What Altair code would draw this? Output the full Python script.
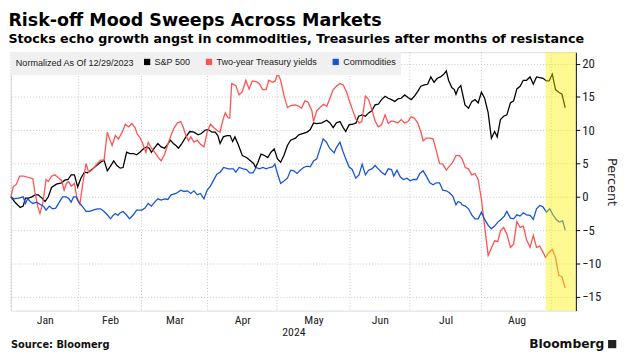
import altair as alt
import pandas as pd

# trading sessions since 12/29/2023 (x position) and normalized % change
sp_t = [0, 1.4, 2.9, 3.8, 4.5, 5.5, 6.5, 7.5, 8.5, 9.6, 10.6, 11.6, 12.6, 14.1, 15.7, 16.7, 17.7, 18.7, 19.7, 20.7,
        21.7, 22.8, 23.8, 24.8, 26.3, 27.8, 28.9, 29.9, 30.9, 31.9, 32.9, 33.9, 34.8, 35.9, 36.9, 38.0, 39.0, 40.0,
        41.1, 42.1, 42.9, 43.6, 44.6, 45.6, 46.6, 47.7, 48.7, 49.5, 50.4, 51.2, 52.0, 53.0, 54.3, 55.5, 56.8, 58.1,
        59.1, 60.2, 61.2, 62.4, 63.4, 64.2, 64.9, 65.9, 67.0, 68.0, 68.8, 69.5, 70.5, 71.8, 73.1, 74.3, 75.3, 75.9,
        76.6, 77.6, 78.7, 79.7, 80.7, 81.7, 82.7, 83.7, 84.7, 85.8, 86.8, 88.3, 89.3, 90.5, 91.9, 92.9, 93.9, 94.9,
        96.5, 98.0, 99.0, 100.0, 101.0, 102.1, 103.1, 103.9, 104.9, 106.1, 107.1, 107.9, 109.0, 110.0, 111.0, 112.0,
        113.0, 114.0, 115.0, 116.1, 117.1, 118.1, 119.1, 120.1, 121.1, 122.2, 123.2, 124.2, 125.2, 126.2, 127.2,
        128.3, 129.3, 130.3, 131.3, 132.3, 133.3, 134.3, 135.1, 135.8, 136.8, 137.6, 138.1, 138.8, 139.6, 140.9,
        142.0, 143.0, 144.0, 145.0, 146.0, 147.0, 148.1, 149.1, 150.1, 150.9, 151.9, 152.9, 153.9, 155.0, 156.0,
        157.0, 158.0, 159.0, 160.0, 161.1, 162.1, 163.1, 164.1, 165.1, 166.2, 167.0, 168.0, 169.0, 170.0, 171.0, 172.0]
sp_v = [0.0, -0.9, -1.6, -1.4, -0.2, -0.2, 0.0, 0.3, 0.3, -0.2, -0.7, 0.0, 1.4, 1.9, 2.1, 2.5, 2.6, 3.3, 3.3, 1.5,
        2.8, 3.7, 3.6, 4.0, 4.6, 5.2, 5.5, 3.9, 4.6, 5.4, 4.7, 4.3, 4.4, 6.7, 6.5, 6.5, 6.3, 6.7,
        7.2, 7.5, 7.3, 6.7, 7.4, 8.0, 7.5, 7.3, 7.9, 8.5, 8.0, 7.7, 7.3, 8.0, 9.0, 9.8, 9.7, 9.3,
        9.5, 10.0, 10.1, 9.7, 9.7, 9.2, 8.0, 9.0, 9.2, 9.2, 8.3, 9.0, 7.9, 6.2, 5.9, 5.4, 5.0, 4.4,
        5.1, 6.4, 6.2, 5.9, 6.7, 7.2, 5.7, 5.2, 6.2, 7.7, 8.5, 8.8, 9.3, 9.5, 9.7, 10.1, 11.1, 11.0,
        11.1, 11.5, 11.1, 10.4, 11.1, 11.3, 10.4, 9.8, 10.8, 10.9, 11.1, 12.1, 12.3, 12.1, 12.6, 12.9,
        13.8, 13.9, 14.6, 15.1, 14.8, 14.6, 14.3, 14.7, 14.8, 15.3, 14.9, 14.6, 15.1, 15.8, 16.6,
        16.8, 16.9, 18.0, 17.2, 17.8, 18.0, 18.4, 18.9, 17.5, 16.4, 16.1, 15.4, 16.3, 16.7, 13.8,
        13.3, 14.3, 14.6, 14.1, 15.7, 14.8, 12.6, 8.8, 9.8, 9.0, 11.6, 12.1, 12.3, 14.1, 14.4,
        16.2, 16.6, 17.5, 17.5, 18.0, 16.9, 18.0, 17.9, 17.8, 17.4, 17.4, 18.4, 16.1, 15.7, 15.4, 13.4]

ty_t = [0, 0.7, 1.7, 2.7, 4.0, 5.5, 6.8, 7.5, 8.3, 9.0, 9.9, 10.9, 11.6, 12.6, 13.6, 14.6, 15.7, 16.5, 17.2, 17.9,
        18.7, 19.7, 20.4, 21.4, 22.3, 23.3, 24.1, 25.1, 26.3, 27.8, 28.9, 29.9, 30.6, 31.4, 32.4, 33.4, 34.5, 35.5,
        36.5, 37.5, 38.5, 39.2, 40.2, 41.1, 41.9, 42.6, 43.6, 44.6, 45.6, 46.6, 47.7, 48.7, 49.7, 50.7, 51.7, 52.7,
        53.5, 54.3, 55.1, 55.8, 56.8, 57.8, 58.8, 59.9, 60.9, 61.9, 62.9, 63.9, 64.9, 65.7, 66.5, 67.3, 67.9, 68.5,
        69.8, 70.8, 71.8, 72.9, 73.9, 74.9, 76.1, 77.1, 78.1, 79.2, 80.0, 81.2, 82.0, 82.8, 83.7, 84.7, 85.8, 86.8,
        88.3, 89.3, 90.2, 91.2, 92.2, 93.4, 93.9, 94.9, 95.9, 97.0, 98.0, 99.0, 100.0, 101.0, 102.1, 103.1, 104.1,
        105.1, 106.1, 107.1, 108.1, 108.9, 110.0, 111.0, 112.0, 113.0, 114.0, 115.0, 116.1, 117.1, 118.1, 119.1,
        120.1, 121.1, 122.2, 123.2, 124.2, 125.2, 126.2, 127.2, 127.9, 128.9, 130.0, 131.0, 132.0, 133.0, 134.0,
        135.1, 136.1, 137.1, 138.1, 139.2, 140.0, 141.0, 142.0, 143.0, 144.0, 145.0, 146.0, 147.0, 148.1, 149.1,
        150.1, 151.1, 151.9, 152.9, 153.9, 155.0, 156.0, 157.0, 158.0, 159.0, 160.0, 161.1, 162.1, 163.1, 164.1,
        165.1, 165.9, 166.9, 168.0, 169.0, 170.0, 171.0, 172.0]
ty_v = [0.0, 1.5, 1.9, 3.1, 3.1, 2.9, 2.7, 0.5, -1.4, -2.5, -0.9, 2.6, 2.3, 3.1, 3.3, 2.9, 2.5, 1.0, 2.0, 2.3,
        1.6, 2.0, 0.0, -1.1, 2.0, 5.0, 3.7, 4.0, 4.7, 5.5, 5.5, 9.7, 8.7, 7.7, 9.2, 8.7, 9.7, 10.9,
        10.5, 11.0, 10.4, 9.4, 8.8, 7.7, 6.7, 8.2, 7.3, 6.7, 6.0, 5.4, 6.4, 7.9, 9.3, 10.4, 11.1, 11.3,
        10.4, 9.2, 8.4, 9.0, 8.2, 8.5, 7.9, 7.5, 9.7, 10.9, 10.4, 10.0, 9.7, 11.4, 12.6, 11.9, 11.8, 17.0,
        16.7, 15.3, 15.8, 17.5, 16.2, 17.4, 17.3, 17.0, 16.1, 16.1, 17.5, 17.2, 17.4, 18.5, 17.5, 15.3, 13.4, 13.7,
        13.8, 13.6, 13.3, 14.4, 14.2, 12.9, 11.3, 12.9, 13.4, 13.9, 13.6, 14.8, 16.1, 16.6, 17.0, 16.8, 15.8,
        14.3, 12.9, 11.6, 11.1, 11.3, 15.1, 14.6, 13.1, 11.4, 10.5, 10.8, 12.3, 11.0, 11.4, 11.3,
        11.1, 11.6, 11.1, 11.3, 12.0, 11.8, 11.1, 9.8, 8.4, 8.8, 8.8, 8.7, 6.9, 5.0, 4.9,
        4.0, 4.6, 5.2, 6.2, 6.2, 5.7, 4.4, 4.2, 3.3, 3.5, 2.6, -0.4, -4.4, -8.8, -7.7,
        -6.6, -6.7, -5.1, -4.6, -5.6, -7.6, -7.1, -3.7, -4.6, -4.4, -6.4, -7.6, -5.8, -7.6, -7.4,
        -8.3, -9.1, -8.4, -7.9, -9.1, -11.8, -12.0, -13.7]

cm_t = [0, 0.9, 2.4, 3.8, 4.5, 5.2, 6.0, 6.8, 8.0, 9.2, 10.1, 10.9, 11.9, 12.9, 13.9, 14.9, 16.0, 17.2, 18.0, 18.7,
        19.4, 20.2, 21.0, 22.1, 23.3, 24.5, 25.5, 26.8, 27.8, 28.9, 29.9, 30.9, 31.7, 32.4, 33.2, 33.9, 34.8, 35.8,
        36.8, 38.0, 39.0, 40.6, 41.6, 42.6, 43.6, 44.6, 45.6, 46.6, 47.7, 48.7, 49.7, 51.2, 52.7, 53.7, 54.8, 55.8,
        56.8, 57.8, 58.8, 59.9, 60.9, 61.9, 62.9, 63.9, 64.9, 66.0, 67.5, 68.5, 69.0, 69.8, 70.8, 72.1, 73.1, 74.1,
        75.1, 76.1, 77.1, 78.2, 79.2, 80.2, 81.2, 81.9, 82.7, 83.7, 84.8, 85.8, 86.8, 87.8, 88.8, 89.8, 90.8, 91.9,
        92.9, 93.9, 94.9, 95.9, 96.9, 97.9, 98.9, 100.3, 101.0, 102.1, 103.05, 103.9, 104.9, 105.9, 107.0, 108.0,
        109.0, 110.0, 111.0, 112.0, 113.0, 114.0, 115.0, 116.1, 117.1, 118.1, 118.8, 119.8, 120.8, 121.8, 122.9,
        123.9, 124.9, 125.9, 126.9, 127.9, 128.9, 130.0, 131.0, 132.0, 133.0, 134.0, 135.1, 136.1, 137.1, 138.1,
        138.8, 139.6, 140.0, 141.0, 142.0, 143.0, 144.0, 145.0, 146.0, 147.0, 148.1, 149.1, 150.1, 151.1, 152.1,
        153.1, 153.9, 155.0, 156.0, 157.0, 158.0, 159.0, 160.0, 161.1, 162.1, 163.1, 164.1, 165.1, 166.2, 167.2,
        168.2, 169.2, 170.2, 171.2, 172.0]
cm_v = [0.0, -0.3, -0.2, 0.0, -1.0, -0.3, -0.7, -1.0, -0.8, -1.2, -1.4, -2.0, -1.4, -1.8, -1.7, -0.9, 0.0, 0.0, -0.3, -0.8,
        0.0, 0.0, -0.8, -1.4, -2.2, -2.2, -2.0, -1.8, -1.8, -2.2, -2.7, -3.3, -2.8, -2.5, -2.8, -2.4, -2.2, -2.7,
        -3.3, -2.7, -2.0, -2.0, -1.7, -1.0, -1.4, -0.8, -0.3, -0.5, -0.3, -0.4, 0.3, 0.5, 1.0, 0.8, 0.9, 0.5,
        0.9, 0.3, 0.5, -0.3, 1.0, 1.6, 2.5, 3.4, 3.7, 4.4, 4.2, 4.2, 4.2, 3.7, 4.4, 4.2, 4.1, 3.6,
        3.6, 4.4, 4.2, 4.4, 4.2, 4.4, 4.5, 4.9, 3.5, 2.0, 2.4, 2.8, 4.0, 3.9, 3.5, 4.0, 4.4, 4.6,
        4.5, 5.4, 5.7, 7.2, 8.7, 8.2, 7.3, 6.6, 7.4, 8.2, 6.8, 5.7, 4.5, 4.1, 2.8, 3.3,
        4.9, 3.3, 4.0, 4.2, 4.7, 4.2, 3.7, 3.3, 4.2, 4.1, 3.1, 4.0, 3.0, 2.6, 2.8,
        2.4, 2.6, 2.6, 3.5, 3.9, 3.1, 2.1, 1.8, 2.1, 2.1, 1.0, 0.9, 0.6, 0.1, -1.2,
        -0.7, -0.9, -1.2, -1.4, -1.8, -2.7, -3.3, -3.3, -2.3, -3.4, -4.3, -4.8, -4.4, -3.8, -3.4,
        -2.9, -2.2, -3.2, -3.3, -2.7, -2.9, -2.4, -2.7, -2.8, -3.4, -1.8, -1.3, -1.5, -2.3, -1.8,
        -2.7, -3.4, -3.8, -3.6, -5.0]

series_names = ["S&P 500", "Two-year Treasury yields", "Commodities"]
series_colors = ["#000000", "#ff5252", "#1554d6"]

month_names = ["Jan", "Feb", "Mar", "Apr", "May", "Jun", "Jul", "Aug"]
month_mid = [10.5, 30.75, 50.75, 71.8, 93.9, 114.5, 134.9, 156.9]
month_bounds = [0, 21, 40.5, 61, 82.6, 105.2, 123.8, 146, 167.7]
y_ticks = [-15, -10, -5, 0, 5, 10, 15, 20]
highlight = [165.9, 175.3]
x_domain = [0, 175.3]
y_domain = [-17.1, 21.7]

rows = []
for name, ts, vs in [(series_names[0], sp_t, sp_v), (series_names[1], ty_t, ty_v), (series_names[2], cm_t, cm_v)]:
    for t, v in zip(ts, vs):
        rows.append({"t": t, "v": v, "series": name})
df = pd.DataFrame(rows)

W, H = 575, 263
FONT = "DejaVu Sans"
SANS = "Liberation Sans, Arial, sans-serif"
NARROW = "Liberation Sans Narrow, Roboto Condensed, DejaVu Sans Condensed, Liberation Sans, sans-serif"

xscale = alt.Scale(domain=x_domain, nice=False, zero=False)
yscale = alt.Scale(domain=y_domain, nice=False, zero=False)

label_expr = "[" + ",".join(f"'{m}'" for m in month_names) + "][indexof([" + ",".join(str(v) for v in month_mid) + "], datum.value)]"

grid_rules = alt.Chart(pd.DataFrame({"t": month_bounds})).mark_rule(
    color="#c4c4c4", strokeDash=[1, 2], strokeWidth=1
).encode(x=alt.X("t:Q", scale=xscale))

lines = alt.Chart(df).mark_line(strokeWidth=1.3, interpolate="linear").encode(
    x=alt.X("t:Q", scale=xscale,
            axis=alt.Axis(values=month_mid, labelExpr=label_expr, grid=False, ticks=False, domain=False,
                          labelFont=NARROW, labelFontSize=12, labelColor="#222", labelPadding=4,
                          title="2024", titleFont=NARROW, titleFontSize=12, titleFontWeight="normal",
                          titleColor="#222", titlePadding=1)),
    y=alt.Y("v:Q", scale=yscale,
            axis=alt.Axis(orient="right", values=y_ticks, grid=True, gridDash=[1, 2], gridColor="#c4c4c4",
                          domain=True, domainColor="#000", ticks=True, tickSize=4, tickColor="#000",
                          labelFont=NARROW, labelFontSize=13, labelColor="#222", labelPadding=2,
                          title="Percent", titleFont=FONT, titleFontSize=13, titleFontWeight="normal",
                          titleColor="#222", titleAngle=90, titlePadding=4)),
    color=alt.Color("series:N", sort=series_names,
                    scale=alt.Scale(domain=series_names, range=series_colors),
                    legend=alt.Legend(orient="top-left", direction="horizontal", offset=0,
                                      title="Normalized As Of 12/29/2023", titleOrient="left",
                                      titleFont=SANS, titleFontSize=9.2, titleFontWeight="normal",
                                      titleColor="#222", titlePadding=8,
                                      labelFont=SANS, labelFontSize=9.2, labelColor="#222", labelOffset=3,
                                      symbolType="square", symbolSize=10, symbolStrokeWidth=3.2,
                                      columnPadding=10, padding=5, fillColor="#f0f0f0")),
    detail="series:N",
)

hl = alt.Chart(pd.DataFrame({"a": [highlight[0]], "b": [highlight[1]]})).mark_rect(
    color="#fff000", opacity=0.42
).encode(x=alt.X("a:Q", scale=xscale), x2="b:Q")

footer = alt.Chart(pd.DataFrame({"s": ["Source: Bloomerg"]})).mark_text(
    align="left", baseline="middle", font=FONT, fontSize=10, fontWeight="bold", color="#111"
).encode(x=alt.value(0), y=alt.value(H + 35), text="s:N")

brand = alt.Chart(pd.DataFrame({"s": ["Bloomberg"]})).mark_text(
    align="right", baseline="middle", font=FONT, fontSize=12.5, fontWeight="bold", color="#111"
).encode(x=alt.value(W + 29), y=alt.value(H + 34), text="s:N")

logo = alt.Chart(pd.DataFrame({"s": ["logo"]})).mark_square(
    size=70, color="#222", opacity=1
).encode(x=alt.value(W + 37), y=alt.value(H + 34))

chart = alt.layer(grid_rules, lines, hl, footer, brand, logo).properties(
    width=W, height=H,
    padding={"left": 0, "top": 0, "right": 4, "bottom": 0},
    title=alt.Title(
        "Risk-off Mood Sweeps Across Markets",
        subtitle="Stocks echo growth angst in commodities, Treasuries after months of resistance",
        anchor="start", font=FONT, fontSize=17.8, fontWeight="bold", color="#000",
        subtitleFont=FONT, subtitleFontSize=12.9, subtitleFontWeight="bold", subtitleColor="#000",
        subtitlePadding=4, offset=6,
    ),
).configure_view(stroke=None).configure(background="white")

chart.save("out.html", embed_options={"renderer": "svg", "actions": False})
